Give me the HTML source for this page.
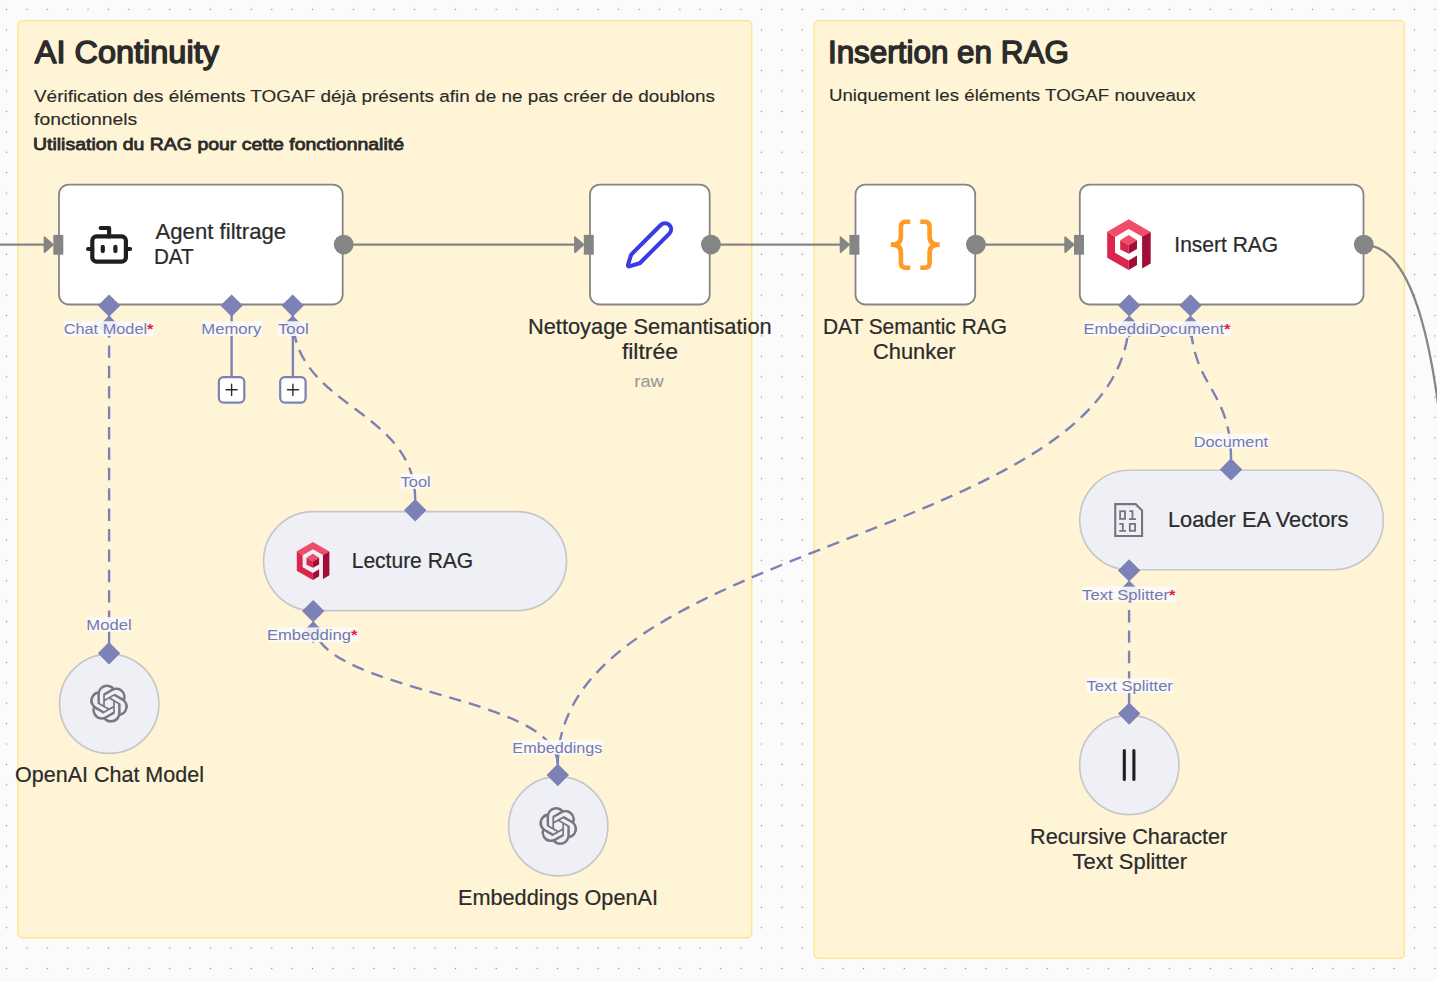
<!DOCTYPE html>
<html><head><meta charset="utf-8"><title>n8n workflow</title>
<style>
html,body{margin:0;padding:0;width:1437px;height:982px;overflow:hidden;background:#fbfbfb;}
svg{display:block;font-family:"Liberation Sans", sans-serif;}
</style></head><body>
<svg width="1437" height="982" viewBox="0 0 1437 982">
<defs>
<pattern id="dots" x="-3.7299999999999995" y="-0.7999999999999989" width="20.406" height="20.406" patternUnits="userSpaceOnUse">
<circle cx="10.203" cy="10.203" r="0.7" fill="#8f8f8f"/>
</pattern>
</defs>
<rect width="1437" height="982" fill="#fbfbfb"/>
<rect width="1437" height="982" fill="url(#dots)"/>

<rect x="17.95" y="20.65" width="733.75" height="917.05" rx="4.6" fill="#fff5d6" stroke="#ffe28e" stroke-width="1.4"/>
<rect x="814.0" y="20.65" width="590.35" height="937.75" rx="4.6" fill="#fff5d6" stroke="#ffe28e" stroke-width="1.4"/>
<text x="34.80" y="62.90" font-size="30.8" font-weight="normal" fill="#2b2b2b" stroke="#2b2b2b" stroke-width="1.39" stroke-linejoin="round" textLength="184.12" lengthAdjust="spacingAndGlyphs">AI Continuity</text>
<text x="34.00" y="102.00" font-size="16.9" font-weight="normal" fill="#2b2b2b" stroke="#2b2b2b" stroke-width="0.14" textLength="681.00" lengthAdjust="spacingAndGlyphs">Vérification des éléments TOGAF déjà présents afin de ne pas créer de doublons</text>
<text x="34.00" y="125.10" font-size="16.9" font-weight="normal" fill="#2b2b2b" stroke="#2b2b2b" stroke-width="0.14" textLength="103.28" lengthAdjust="spacingAndGlyphs">fonctionnels</text>
<text x="33.00" y="149.60" font-size="17" font-weight="normal" fill="#2b2b2b" stroke="#2b2b2b" stroke-width="0.8" stroke-linejoin="round" textLength="371.00" lengthAdjust="spacingAndGlyphs">Utilisation du RAG pour cette fonctionnalité</text>
<text x="827.92" y="62.80" font-size="30.8" font-weight="normal" fill="#2b2b2b" stroke="#2b2b2b" stroke-width="1.39" stroke-linejoin="round" textLength="240.92" lengthAdjust="spacingAndGlyphs">Insertion en RAG</text>
<text x="828.92" y="101.00" font-size="16.9" font-weight="normal" fill="#2b2b2b" stroke="#2b2b2b" stroke-width="0.14" textLength="366.72" lengthAdjust="spacingAndGlyphs">Uniquement les éléments TOGAF nouveaux</text>
<path d="M109.1,643.4 L109.1,316.3" fill="none" stroke="#7c81b6" stroke-width="2.4" stroke-dasharray="12.4 8.0"/>
<path d="M415.2,499.8 C415.2,408.05 292.7,408.05 292.7,316.3" fill="none" stroke="#7c81b6" stroke-width="2.4" stroke-dasharray="12.4 8.0"/>
<path d="M557.8,764.5 C557.8,693.30 313.2,693.30 313.2,622.1" fill="none" stroke="#7c81b6" stroke-width="2.4" stroke-dasharray="12.4 8.0"/>
<path d="M557.8,764.5 C557.8,540.35 1129.2,540.35 1129.2,316.2" fill="none" stroke="#7c81b6" stroke-width="2.4" stroke-dasharray="12.4 8.0"/>
<path d="M1231.0,459.0 C1231.0,387.60 1190.5,387.60 1190.5,316.2" fill="none" stroke="#7c81b6" stroke-width="2.4" stroke-dasharray="12.4 8.0"/>
<path d="M1129.1,704.0 L1129.1,581.4" fill="none" stroke="#7c81b6" stroke-width="2.4" stroke-dasharray="12.4 8.0"/>
<path d="M109.10,315.50 L120.10,326.50 L109.10,337.50 L98.10,326.50Z" fill="#7c81b6"/>
<path d="M292.70,315.50 L303.70,326.50 L292.70,337.50 L281.70,326.50Z" fill="#7c81b6"/>
<path d="M313.20,621.30 L324.20,632.30 L313.20,643.30 L302.20,632.30Z" fill="#7c81b6"/>
<path d="M1129.20,315.40 L1140.20,326.40 L1129.20,337.40 L1118.20,326.40Z" fill="#7c81b6"/>
<path d="M1190.50,315.40 L1201.50,326.40 L1190.50,337.40 L1179.50,326.40Z" fill="#7c81b6"/>
<path d="M1129.10,580.60 L1140.10,591.60 L1129.10,602.60 L1118.10,591.60Z" fill="#7c81b6"/>
<path d="M0,244.7 L50,244.7" fill="none" stroke="#858585" stroke-width="2.3"/>
<path d="M343.7,244.7 L580,244.7" fill="none" stroke="#858585" stroke-width="2.3"/>
<path d="M711,244.7 L845,244.7" fill="none" stroke="#858585" stroke-width="2.3"/>
<path d="M975.6,244.7 L1070,244.7" fill="none" stroke="#858585" stroke-width="2.3"/>
<path d="M1363.7,244.8 C1412.5,244.8 1440.1,344.1 1450.1,544.1" fill="none" stroke="#858585" stroke-width="2.3"/>
<line x1="231.6" y1="305" x2="231.6" y2="377" stroke="#7c81b6" stroke-width="2.4"/>
<rect x="218.90" y="377.1" width="25.4" height="25.5" rx="4.6" fill="#fff" stroke="#7c81b6" stroke-width="2.2"/>
<path d="M226.10,389.8 H237.10 M231.60,384.3 V395.4" stroke="#2e2e2e" stroke-width="1.4" stroke-linecap="round"/>
<line x1="292.9" y1="305" x2="292.9" y2="377" stroke="#7c81b6" stroke-width="2.4"/>
<rect x="280.20" y="377.1" width="25.4" height="25.5" rx="4.6" fill="#fff" stroke="#7c81b6" stroke-width="2.2"/>
<path d="M287.40,389.8 H298.40 M292.90,384.3 V395.4" stroke="#2e2e2e" stroke-width="1.4" stroke-linecap="round"/>
<rect x="59.00" y="184.60" width="283.70" height="119.90" rx="9.8" fill="#fff" stroke="#858585" stroke-width="1.8"/>
<rect x="590.00" y="184.60" width="119.70" height="119.90" rx="9.8" fill="#fff" stroke="#858585" stroke-width="1.8"/>
<rect x="855.50" y="184.60" width="119.70" height="119.90" rx="9.8" fill="#fff" stroke="#858585" stroke-width="1.8"/>
<rect x="1079.80" y="184.60" width="283.70" height="119.90" rx="9.8" fill="#fff" stroke="#858585" stroke-width="1.8"/>
<rect x="53.30" y="234.9" width="10" height="19.8" fill="#858585"/>
<path d="M53.00,244.7 L44.40,237.1 L44.40,252.3 Z" fill="#858585" stroke="#858585" stroke-width="1.6" stroke-linejoin="round"/>
<rect x="583.80" y="234.9" width="10" height="19.8" fill="#858585"/>
<path d="M583.50,244.7 L574.90,237.1 L574.90,252.3 Z" fill="#858585" stroke="#858585" stroke-width="1.6" stroke-linejoin="round"/>
<rect x="849.40" y="234.9" width="10" height="19.8" fill="#858585"/>
<path d="M849.10,244.7 L840.50,237.1 L840.50,252.3 Z" fill="#858585" stroke="#858585" stroke-width="1.6" stroke-linejoin="round"/>
<rect x="1074.00" y="234.9" width="10" height="19.8" fill="#858585"/>
<path d="M1073.70,244.7 L1065.10,237.1 L1065.10,252.3 Z" fill="#858585" stroke="#858585" stroke-width="1.6" stroke-linejoin="round"/>
<circle cx="343.7" cy="244.6" r="9.9" fill="#858585"/>
<circle cx="710.9" cy="244.6" r="9.9" fill="#858585"/>
<circle cx="975.9" cy="244.6" r="9.9" fill="#858585"/>
<circle cx="1363.8" cy="244.6" r="9.9" fill="#858585"/>
<path d="M109.10,294.40 L120.30,305.60 L109.10,316.80 L97.90,305.60Z" fill="#7c81b6"/>
<path d="M231.60,294.40 L242.80,305.60 L231.60,316.80 L220.40,305.60Z" fill="#7c81b6"/>
<path d="M292.70,294.40 L303.90,305.60 L292.70,316.80 L281.50,305.60Z" fill="#7c81b6"/>
<path d="M1129.20,294.20 L1140.40,305.40 L1129.20,316.60 L1118.00,305.40Z" fill="#7c81b6"/>
<path d="M1190.50,294.20 L1201.70,305.40 L1190.50,316.60 L1179.30,305.40Z" fill="#7c81b6"/>
<g transform="translate(83.9,219.6) scale(2.1)" fill="none" stroke="#1f1f1f" stroke-width="2.0" stroke-linecap="round" stroke-linejoin="round"><path d="M12 8V4H8"/><rect width="16" height="12" x="4" y="8" rx="2"/><path d="M2 14h2"/><path d="M20 14h2"/><path d="M15 13v2"/><path d="M9 13v2"/></g>
<g transform="translate(623.6,218.9) scale(2.16)" fill="none" stroke="#3b3be3" stroke-width="1.9" stroke-linecap="round" stroke-linejoin="round"><path d="M21.174 6.812a1 1 0 0 0-3.986-3.987L3.842 16.174a2 2 0 0 0-.5.83l-1.321 4.352a.5.5 0 0 0 .623.622l4.353-1.32a2 2 0 0 0 .83-.497z"/></g>
<path d="M910.2,221.7 L905.6,221.7 Q900.9,221.7 900.9,227 L900.9,236.3 Q900.9,244.6 892.6,244.6 L890.8,244.6 M892.6,244.6 Q900.9,244.6 900.9,252.9 L900.9,262.5 Q900.9,267.8 905.6,267.8 L910.2,267.8" fill="none" stroke="#ff9b26" stroke-width="4.6"/>
<path d="M910.2,221.7 L905.6,221.7 Q900.9,221.7 900.9,227 L900.9,236.3 Q900.9,244.6 892.6,244.6 L890.8,244.6 M892.6,244.6 Q900.9,244.6 900.9,252.9 L900.9,262.5 Q900.9,267.8 905.6,267.8 L910.2,267.8" fill="none" stroke="#ff9b26" stroke-width="4.6" transform="translate(1830.5,0) scale(-1,1)"/>
<polygon points="1128.70,219.20 1150.70,232.00 1142.10,236.60 1128.70,229.00 1115.00,236.90 1107.20,231.70" fill="#f04d6b"/><polygon points="1107.20,231.70 1115.00,236.90 1115.00,252.80 1128.70,260.40 1128.70,269.90 1107.20,257.70" fill="#dc244c"/><polygon points="1150.70,232.00 1150.70,263.50 1142.10,268.40 1142.10,236.60" fill="#a00e37"/><polygon points="1128.70,260.40 1137.00,255.60 1137.00,265.00 1128.70,269.90" fill="#a00e37"/><polygon points="1128.70,235.00 1137.00,240.30 1128.70,245.20 1120.20,240.30" fill="#f04d6b"/><polygon points="1120.20,240.30 1128.70,245.20 1128.70,253.70 1120.20,249.40" fill="#dc244c"/><polygon points="1128.70,245.20 1137.00,240.30 1137.00,249.10 1128.70,253.70" fill="#a00e37"/>
<text x="155.44" y="238.90" font-size="21.4" font-weight="normal" fill="#2b2b2b" stroke="#2b2b2b" stroke-width="0.22" textLength="130.76" lengthAdjust="spacingAndGlyphs">Agent filtrage</text>
<text x="153.92" y="264.00" font-size="21.4" font-weight="normal" fill="#2b2b2b" stroke="#2b2b2b" stroke-width="0.22" textLength="39.80" lengthAdjust="spacingAndGlyphs">DAT</text>
<text x="1174.36" y="251.90" font-size="21.4" font-weight="normal" fill="#2b2b2b" stroke="#2b2b2b" stroke-width="0.22" textLength="103.84" lengthAdjust="spacingAndGlyphs">Insert RAG</text>
<text x="528.00" y="333.90" font-size="21.4" font-weight="normal" fill="#2b2b2b" stroke="#2b2b2b" stroke-width="0.22" textLength="243.64" lengthAdjust="spacingAndGlyphs">Nettoyage Semantisation</text>
<text x="621.92" y="358.90" font-size="21.4" font-weight="normal" fill="#2b2b2b" stroke="#2b2b2b" stroke-width="0.22" textLength="56.08" lengthAdjust="spacingAndGlyphs">filtrée</text>
<text x="634.36" y="386.90" font-size="17" font-weight="normal" fill="#9a9a9a" stroke="#9a9a9a" stroke-width="0.14" textLength="29.20" lengthAdjust="spacingAndGlyphs">raw</text>
<text x="822.92" y="334.00" font-size="21.4" font-weight="normal" fill="#2b2b2b" stroke="#2b2b2b" stroke-width="0.22" textLength="184.08" lengthAdjust="spacingAndGlyphs">DAT Semantic RAG</text>
<text x="873.00" y="358.50" font-size="21.4" font-weight="normal" fill="#2b2b2b" stroke="#2b2b2b" stroke-width="0.22" textLength="82.64" lengthAdjust="spacingAndGlyphs">Chunker</text>
<rect x="263.55" y="511.55" width="303" height="99" rx="49.5" fill="#efeff6" stroke="#c7c7c9" stroke-width="1.7"/>
<rect x="1079.75" y="470.25" width="303.6" height="99.5" rx="49.75" fill="#efeff6" stroke="#c7c7c9" stroke-width="1.7"/>
<circle cx="109.2" cy="703.7" r="49.65" fill="#efeff6" stroke="#c7c7c9" stroke-width="1.7"/>
<circle cx="558.2" cy="826.3" r="49.65" fill="#efeff6" stroke="#c7c7c9" stroke-width="1.7"/>
<circle cx="1129.3" cy="765.0" r="49.65" fill="#efeff6" stroke="#c7c7c9" stroke-width="1.7"/>
<polygon points="312.90,542.00 329.39,551.59 322.94,555.04 312.90,549.35 302.63,555.27 296.79,551.37" fill="#f04d6b"/><polygon points="296.79,551.37 302.63,555.27 302.63,567.18 312.90,572.88 312.90,580.00 296.79,570.86" fill="#dc244c"/><polygon points="329.39,551.59 329.39,575.20 322.94,578.88 322.94,555.04" fill="#a00e37"/><polygon points="312.90,572.88 319.12,569.28 319.12,576.33 312.90,580.00" fill="#a00e37"/><polygon points="312.90,553.84 319.12,557.81 312.90,561.49 306.53,557.81" fill="#f04d6b"/><polygon points="306.53,557.81 312.90,561.49 312.90,567.86 306.53,564.64" fill="#dc244c"/><polygon points="312.90,561.49 319.12,557.81 319.12,564.41 312.90,567.86" fill="#a00e37"/>
<text x="351.72" y="568.00" font-size="21.4" font-weight="normal" fill="#2b2b2b" stroke="#2b2b2b" stroke-width="0.22" textLength="121.48" lengthAdjust="spacingAndGlyphs">Lecture RAG</text>
<g fill="none" stroke="#74757d"><path d="M1115.25,504.15 H1135.7 L1142.05,510.5 V535.95 H1115.25 Z" stroke-width="2.1"/><rect x="1120.1" y="511.2" width="4.9" height="7.7" stroke-width="1.8"/><rect x="1129.8" y="523.9" width="5.3" height="6.9" stroke-width="1.8"/><path d="M1129.3,511.2 H1132.5 V519.1 M1128.9,519.1 H1136 M1119.2,523.9 H1122.8 V530.8 M1119.2,530.8 H1125.9" stroke-width="1.8"/></g>
<text x="1168.00" y="526.90" font-size="21.4" font-weight="normal" fill="#2b2b2b" stroke="#2b2b2b" stroke-width="0.22" textLength="180.44" lengthAdjust="spacingAndGlyphs">Loader EA Vectors</text>
<path d="M22.2819 9.8211a5.9847 5.9847 0 0 0-.5157-4.9108 6.0462 6.0462 0 0 0-6.5098-2.9A6.0651 6.0651 0 0 0 4.9807 4.1818a5.9847 5.9847 0 0 0-3.9977 2.9 6.0462 6.0462 0 0 0 .7427 7.0966 5.98 5.98 0 0 0 .511 4.9107 6.051 6.051 0 0 0 6.5146 2.9001A5.9847 5.9847 0 0 0 13.2599 24a6.0557 6.0557 0 0 0 5.7718-4.2058 5.9894 5.9894 0 0 0 3.9977-2.9001 6.0557 6.0557 0 0 0-.7475-7.0729zm-9.022 12.6081a4.4755 4.4755 0 0 1-2.8764-1.0408l.1419-.0804 4.7783-2.7582a.7948.7948 0 0 0 .3927-.6813v-6.7369l2.02 1.1686a.071.071 0 0 1 .038.052v5.5826a4.504 4.504 0 0 1-4.4945 4.4944zm-9.6607-4.1254a4.4708 4.4708 0 0 1-.5346-3.0137l.142.0852 4.783 2.7582a.7712.7712 0 0 0 .7806 0l5.8428-3.3685v2.3324a.0804.0804 0 0 1-.0332.0615L9.74 19.9502a4.4992 4.4992 0 0 1-6.1408-1.6464zM2.3408 7.8956a4.485 4.485 0 0 1 2.3655-1.9728V11.6a.7664.7664 0 0 0 .3879.6765l5.8144 3.3543-2.0201 1.1685a.0757.0757 0 0 1-.071 0l-4.8303-2.7865A4.504 4.504 0 0 1 2.3408 7.872zm16.5963 3.8558L13.1038 8.364 15.1192 7.2a.0757.0757 0 0 1 .071 0l4.8303 2.7913a4.4944 4.4944 0 0 1-.6765 8.1042v-5.6772a.79.79 0 0 0-.407-.667zm2.0107-3.0231l-.142-.0852-4.7735-2.7818a.7759.7759 0 0 0-.7854 0L9.409 9.2297V6.8974a.0662.0662 0 0 1 .0284-.0615l4.8303-2.7866a4.4992 4.4992 0 0 1 6.6802 4.66zM8.3065 12.863l-2.02-1.1638a.0804.0804 0 0 1-.038-.0567V6.0742a4.4992 4.4992 0 0 1 7.3757-3.4537l-.142.0805L8.704 5.459a.7948.7948 0 0 0-.3927.6813zm1.0976-2.3654l2.602-1.4998 2.6069 1.4998v2.9994l-2.5974 1.4997-2.6067-1.4997Z" fill="#77787f" transform="translate(90.00,684.60) scale(1.5833)"/>
<path d="M22.2819 9.8211a5.9847 5.9847 0 0 0-.5157-4.9108 6.0462 6.0462 0 0 0-6.5098-2.9A6.0651 6.0651 0 0 0 4.9807 4.1818a5.9847 5.9847 0 0 0-3.9977 2.9 6.0462 6.0462 0 0 0 .7427 7.0966 5.98 5.98 0 0 0 .511 4.9107 6.051 6.051 0 0 0 6.5146 2.9001A5.9847 5.9847 0 0 0 13.2599 24a6.0557 6.0557 0 0 0 5.7718-4.2058 5.9894 5.9894 0 0 0 3.9977-2.9001 6.0557 6.0557 0 0 0-.7475-7.0729zm-9.022 12.6081a4.4755 4.4755 0 0 1-2.8764-1.0408l.1419-.0804 4.7783-2.7582a.7948.7948 0 0 0 .3927-.6813v-6.7369l2.02 1.1686a.071.071 0 0 1 .038.052v5.5826a4.504 4.504 0 0 1-4.4945 4.4944zm-9.6607-4.1254a4.4708 4.4708 0 0 1-.5346-3.0137l.142.0852 4.783 2.7582a.7712.7712 0 0 0 .7806 0l5.8428-3.3685v2.3324a.0804.0804 0 0 1-.0332.0615L9.74 19.9502a4.4992 4.4992 0 0 1-6.1408-1.6464zM2.3408 7.8956a4.485 4.485 0 0 1 2.3655-1.9728V11.6a.7664.7664 0 0 0 .3879.6765l5.8144 3.3543-2.0201 1.1685a.0757.0757 0 0 1-.071 0l-4.8303-2.7865A4.504 4.504 0 0 1 2.3408 7.872zm16.5963 3.8558L13.1038 8.364 15.1192 7.2a.0757.0757 0 0 1 .071 0l4.8303 2.7913a4.4944 4.4944 0 0 1-.6765 8.1042v-5.6772a.79.79 0 0 0-.407-.667zm2.0107-3.0231l-.142-.0852-4.7735-2.7818a.7759.7759 0 0 0-.7854 0L9.409 9.2297V6.8974a.0662.0662 0 0 1 .0284-.0615l4.8303-2.7866a4.4992 4.4992 0 0 1 6.6802 4.66zM8.3065 12.863l-2.02-1.1638a.0804.0804 0 0 1-.038-.0567V6.0742a4.4992 4.4992 0 0 1 7.3757-3.4537l-.142.0805L8.704 5.459a.7948.7948 0 0 0-.3927.6813zm1.0976-2.3654l2.602-1.4998 2.6069 1.4998v2.9994l-2.5974 1.4997-2.6067-1.4997Z" fill="#77787f" transform="translate(539.20,807.00) scale(1.5833)"/>
<text x="15.08" y="781.60" font-size="21.4" font-weight="normal" fill="#2b2b2b" stroke="#2b2b2b" stroke-width="0.22" textLength="188.84" lengthAdjust="spacingAndGlyphs">OpenAI Chat Model</text>
<text x="458.00" y="905.00" font-size="21.4" font-weight="normal" fill="#2b2b2b" stroke="#2b2b2b" stroke-width="0.22" textLength="200.00" lengthAdjust="spacingAndGlyphs">Embeddings OpenAI</text>
<path d="M1124.3,750.5 V779.4 M1133.9,750.5 V779.4" stroke="#1f1f1f" stroke-width="3.1" stroke-linecap="round"/>
<text x="1030.00" y="844.30" font-size="21.4" font-weight="normal" fill="#2b2b2b" stroke="#2b2b2b" stroke-width="0.22" textLength="197.28" lengthAdjust="spacingAndGlyphs">Recursive Character</text>
<text x="1072.64" y="868.70" font-size="21.4" font-weight="normal" fill="#2b2b2b" stroke="#2b2b2b" stroke-width="0.22" textLength="114.36" lengthAdjust="spacingAndGlyphs">Text Splitter</text>
<path d="M415.20,499.10 L426.40,510.30 L415.20,521.50 L404.00,510.30Z" fill="#7c81b6"/>
<path d="M313.20,599.90 L324.40,611.10 L313.20,622.30 L302.00,611.10Z" fill="#7c81b6"/>
<path d="M1231.00,458.20 L1242.20,469.40 L1231.00,480.60 L1219.80,469.40Z" fill="#7c81b6"/>
<path d="M1129.10,559.20 L1140.30,570.40 L1129.10,581.60 L1117.90,570.40Z" fill="#7c81b6"/>
<path d="M109.00,642.10 L120.20,653.30 L109.00,664.50 L97.80,653.30Z" fill="#7c81b6"/>
<path d="M557.80,763.80 L569.00,775.00 L557.80,786.20 L546.60,775.00Z" fill="#7c81b6"/>
<path d="M1129.20,702.40 L1140.40,713.60 L1129.20,724.80 L1118.00,713.60Z" fill="#7c81b6"/>
<rect x="64.00" y="321.20" width="90.00" height="14.8" fill="#fbfbfb" fill-opacity="0.9"/>
<text x="63.70" y="334.10" font-size="15.4" fill="#7479b0" textLength="89.80" lengthAdjust="spacingAndGlyphs">Chat Model<tspan fill="#e8213a" font-weight="bold">*</tspan></text>
<rect x="202.10" y="321.20" width="59.70" height="14.8" fill="#fbfbfb" fill-opacity="0.9"/>
<text x="201.32" y="334.10" font-size="15.4" fill="#7479b0" textLength="60.14" lengthAdjust="spacingAndGlyphs">Memory</text>
<rect x="277.50" y="321.20" width="30.20" height="14.8" fill="#fbfbfb" fill-opacity="0.9"/>
<text x="278.00" y="334.10" font-size="15.4" fill="#7479b0" textLength="30.64" lengthAdjust="spacingAndGlyphs">Tool</text>
<rect x="400.20" y="474.10" width="30.30" height="14.8" fill="#fbfbfb" fill-opacity="0.9"/>
<text x="400.54" y="487.00" font-size="15.4" fill="#7479b0" textLength="30.26" lengthAdjust="spacingAndGlyphs">Tool</text>
<rect x="268.20" y="627.40" width="89.80" height="14.8" fill="#fbfbfb" fill-opacity="0.9"/>
<text x="266.94" y="640.30" font-size="15.4" fill="#7479b0" textLength="90.56" lengthAdjust="spacingAndGlyphs">Embedding<tspan fill="#e8213a" font-weight="bold">*</tspan></text>
<rect x="86.90" y="617.10" width="44.20" height="14.8" fill="#fbfbfb" fill-opacity="0.9"/>
<text x="86.28" y="630.00" font-size="15.4" fill="#7479b0" textLength="45.44" lengthAdjust="spacingAndGlyphs">Model</text>
<rect x="513.30" y="739.80" width="89.30" height="14.8" fill="#fbfbfb" fill-opacity="0.9"/>
<text x="512.36" y="752.70" font-size="15.4" fill="#7479b0" textLength="90.06" lengthAdjust="spacingAndGlyphs">Embeddings</text>
<rect x="1084.50" y="321.20" width="89.80" height="14.8" fill="#fbfbfb" fill-opacity="0.9"/>
<text x="1083.40" y="334.10" font-size="15.4" fill="#7479b0" textLength="90.56" lengthAdjust="spacingAndGlyphs">Embedding<tspan fill="#e8213a" font-weight="bold">*</tspan></text>
<rect x="1149.40" y="321.20" width="81.40" height="14.8" fill="#fbfbfb" fill-opacity="0.9"/>
<text x="1148.78" y="334.10" font-size="15.4" fill="#7479b0" textLength="81.68" lengthAdjust="spacingAndGlyphs">Document<tspan fill="#e8213a" font-weight="bold">*</tspan></text>
<rect x="1194.60" y="433.60" width="73.90" height="14.8" fill="#fbfbfb" fill-opacity="0.9"/>
<text x="1193.82" y="446.50" font-size="15.4" fill="#7479b0" textLength="74.18" lengthAdjust="spacingAndGlyphs">Document</text>
<rect x="1082.10" y="586.60" width="93.90" height="14.8" fill="#fbfbfb" fill-opacity="0.9"/>
<text x="1082.12" y="599.50" font-size="15.4" fill="#7479b0" textLength="93.38" lengthAdjust="spacingAndGlyphs">Text Splitter<tspan fill="#e8213a" font-weight="bold">*</tspan></text>
<rect x="1086.00" y="678.30" width="86.90" height="14.8" fill="#fbfbfb" fill-opacity="0.9"/>
<text x="1086.50" y="691.20" font-size="15.4" fill="#7479b0" textLength="86.38" lengthAdjust="spacingAndGlyphs">Text Splitter</text>
</svg>
</body></html>
